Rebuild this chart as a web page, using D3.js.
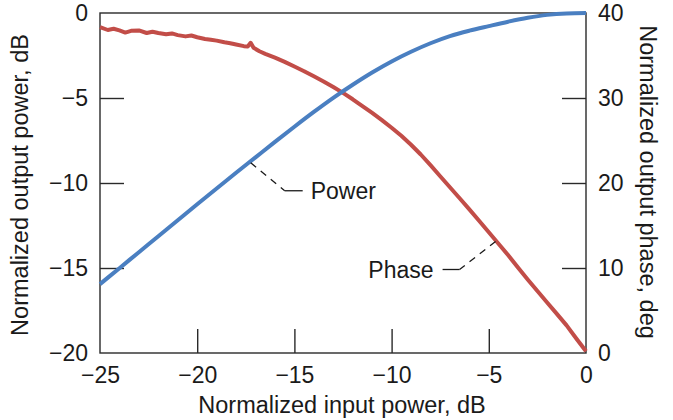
<!DOCTYPE html>
<html>
<head>
<meta charset="utf-8">
<script src="https://cdn.jsdelivr.net/npm/d3@7"></script>
<style>
  body { margin: 0; background: #fff; }
  text { font-family: "Liberation Sans", Arial, sans-serif; fill: #1a1a1a; }
</style>
</head>
<body>
<div id="container"></div>
<script>
const w = 673;
const h = 420;
const plotLeft = 100, plotRight = 586, plotTop = 13, plotBottom = 353;

// input power, dB
const powerX = [-25, -24, -23, -22, -21, -20, -19, -18, -17, -16, -15, -14, -13,
  -12, -11, -10, -9, -8, -7, -6, -5, -4, -3, -2, -1, 0];
// normalized output power, dB
const powerY = [-15.95, -15.01, -14.07, -13.13, -12.19, -11.25, -10.32, -9.4, -8.49,
  -7.58, -6.69, -5.82, -4.99, -4.22, -3.5, -2.85, -2.28, -1.78, -1.36, -1.04, -0.77,
  -0.51, -0.28, -0.11, -0.025, 0];

// input power, dB
const phaseX = [-25, -24.6, -24.3, -24, -23.7, -23.4, -23, -22.6, -22.3, -22, -21.6,
  -21.3, -21, -20.6, -20.3, -20, -19.6, -19.3, -19, -18.6, -18.3, -18, -17.6, -17.4,
  -17.25, -17.1, -16.8, -16.5, -16, -15.5, -15, -14.5, -14, -13.5, -13, -12.5, -12,
  -11.5, -11, -10.5, -10, -9.5, -9, -8.5, -8, -7.5, -7, -6.5, -6, -5.5, -5, -4.5,
  -4, -3.5, -3, -2.5, -2, -1.5, -1, -0.5, 0];
// normalized output phase, deg
const phaseY = [38.35, 38.0, 38.15, 37.95, 37.7, 37.9, 37.95, 37.65, 37.8, 37.65, 37.5,
  37.6, 37.4, 37.25, 37.35, 37.15, 36.95, 36.85, 36.75, 36.55, 36.45, 36.3, 36.1, 36.05,
  36.5, 35.9, 35.5, 35.2, 34.75, 34.25, 33.7, 33.15, 32.55, 31.95, 31.3, 30.6, 29.85,
  29.05, 28.25, 27.4, 26.5, 25.55, 24.5, 23.35, 22.1, 20.8, 19.5, 18.2, 16.9, 15.55, 14.2,
  12.85, 11.5, 10.05, 8.65, 7.3, 5.95, 4.6, 3.25, 1.7, 0.2];

const xTicks = [-25, -20, -15, -10, -5, 0];
const yLeftTicks = [-20, -15, -10, -5, 0];
const yRightTicks = [0, 10, 20, 30, 40];

const powerLabel = { text: "Power", x: -17.3, y: -8.75 };
const phaseLabel = { text: "Phase", x: -4.6, y: 13.0 };

const svg = d3.select("#container").append("svg")
  .attr("width", w).attr("height", h);

const x = d3.scaleLinear().domain([-25, 0]).range([plotLeft, plotRight]);
const yL = d3.scaleLinear().domain([-20, 0]).range([plotBottom, plotTop]);
const yR = d3.scaleLinear().domain([0, 40]).range([plotBottom, plotTop]);

const fmt = d3.format("d");

// axes, ticks pointing inward, no ticks on frame corners
const xAxis = d3.axisBottom(x).tickValues(xTicks).tickSizeInner(-24).tickSizeOuter(0)
  .tickPadding(14).tickFormat(fmt);
const yAxisL = d3.axisLeft(yL).tickValues(yLeftTicks).tickSizeInner(-24).tickSizeOuter(0)
  .tickPadding(12).tickFormat(fmt);
const yAxisR = d3.axisRight(yR).tickValues(yRightTicks).tickSizeInner(-24).tickSizeOuter(0)
  .tickPadding(12).tickFormat(fmt);

function styleAxis(g, ends) {
  g.select(".domain").remove();
  g.selectAll(".tick line").attr("stroke", "#2a2a2a").attr("stroke-width", 1.4)
    .filter((d) => ends.includes(d)).remove();
  g.selectAll(".tick text").attr("font-size", 23).attr("fill", "#1a1a1a")
    .attr("font-family", "Liberation Sans, Arial, sans-serif");
}

svg.append("g").attr("transform", "translate(0," + plotBottom + ")").call(xAxis)
  .call((g) => styleAxis(g, [-25, 0]));
svg.append("g").attr("transform", "translate(" + plotLeft + ",0)").call(yAxisL)
  .call((g) => styleAxis(g, [-20, 0]));
svg.append("g").attr("transform", "translate(" + plotRight + ",0)").call(yAxisR)
  .call((g) => styleAxis(g, [0, 40]));

svg.append("rect")
  .attr("x", plotLeft).attr("y", plotTop)
  .attr("width", plotRight - plotLeft).attr("height", plotBottom - plotTop)
  .attr("fill", "none").attr("stroke", "#2a2a2a").attr("stroke-width", 1.4);

// curves
const powerLine = d3.line()
  .x((d, i) => x(powerX[i]))
  .y((d) => yL(d))
  .curve(d3.curveMonotoneX);
const phaseLine = d3.line()
  .x((d, i) => x(phaseX[i]))
  .y((d) => yR(d));

svg.append("path").datum(phaseY)
  .attr("d", phaseLine)
  .attr("fill", "none").attr("stroke", "#c24d48").attr("stroke-width", 4)
  .attr("stroke-linejoin", "round");
svg.append("path").datum(powerY)
  .attr("d", powerLine)
  .attr("fill", "none").attr("stroke", "#4a7fc1").attr("stroke-width", 4)
  .attr("stroke-linejoin", "round");

// callouts
function callout(px, py, dx, dy, run, label, anchor) {
  const g = svg.append("g");
  g.append("line")
    .attr("x1", px).attr("y1", py).attr("x2", px + dx).attr("y2", py + dy)
    .attr("stroke", "#1a1a1a").attr("stroke-width", 1.3).attr("stroke-dasharray", "7,6");
  g.append("line")
    .attr("x1", px + dx).attr("y1", py + dy).attr("x2", px + dx + run).attr("y2", py + dy)
    .attr("stroke", "#1a1a1a").attr("stroke-width", 1.3);
  g.append("text")
    .attr("x", px + dx + run + (run > 0 ? 8 : -9)).attr("y", py + dy)
    .attr("dy", "0.35em").attr("text-anchor", anchor)
    .attr("font-size", 23).text(label);
}
callout(x(powerLabel.x) + 1, yL(powerLabel.y) + 1, 34, 28, 18, powerLabel.text, "start");
callout(x(phaseLabel.x) - 1, yR(phaseLabel.y) - 1, -36, 28, -17, phaseLabel.text, "end");

// axis titles
svg.append("text")
  .attr("x", (plotLeft + plotRight) / 2 - 1).attr("y", 413)
  .attr("text-anchor", "middle").attr("font-size", 23.5)
  .text("Normalized input power, dB");
svg.append("text")
  .attr("transform", "translate(28," + ((plotTop + plotBottom) / 2 + 2) + ") rotate(-90)")
  .attr("text-anchor", "middle").attr("font-size", 23.5)
  .text("Normalized output power, dB");
svg.append("text")
  .attr("transform", "translate(640," + ((plotTop + plotBottom) / 2 - 1) + ") rotate(90)")
  .attr("text-anchor", "middle").attr("font-size", 23.5)
  .text("Normalized output phase, deg");
</script>
</body>
</html>
